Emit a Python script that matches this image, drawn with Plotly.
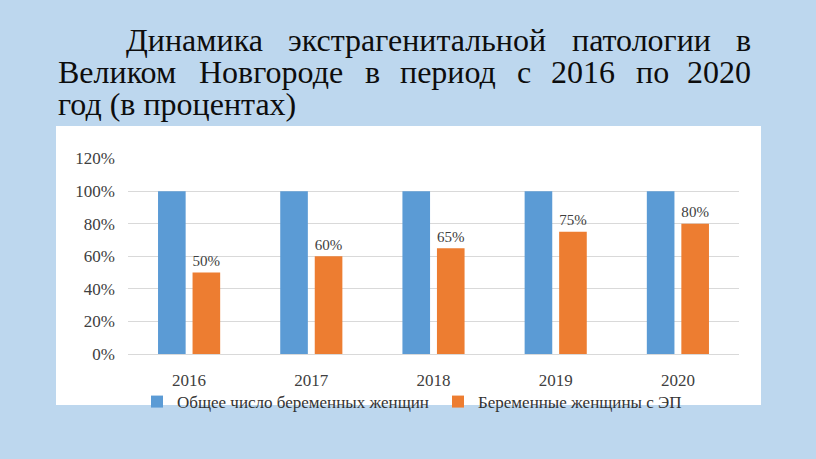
import plotly.graph_objects as go

W, H = 816, 459

years = ["2016", "2017", "2018", "2019", "2020"]
total_pct = [1.00, 1.00, 1.00, 1.00, 1.00]
ep_pct = [0.50, 0.60, 0.65, 0.75, 0.80]
series_names = ["Общее число беременных женщин", "Беременные женщины с ЭП"]
ytick_vals = [0, 0.2, 0.4, 0.6, 0.8, 1.0, 1.2]
ytick_text = ["0%", "20%", "40%", "60%", "80%", "100%", "120%"]

title_lines = [
    "Динамика экстрагенитальной патологии в",
    "Великом Новгороде в период с 2016 по 2020",
    "год (в процентах)",
]

BLUE = "#5B9BD5"
ORANGE = "#ED7D31"
BG = "#BDD7EE"
SERIF = "Liberation Serif"
TITLE_SIZE = 32

# approximate Times / Liberation Serif advance widths (em)
CW = {
    "Д": 0.65, "В": 0.667, "Н": 0.722,
    "а": 0.444, "б": 0.5, "в": 0.472, "г": 0.41, "д": 0.509, "е": 0.444, "и": 0.535,
    "й": 0.535, "к": 0.486, "л": 0.499, "м": 0.633, "н": 0.535, "о": 0.5, "п": 0.535,
    "р": 0.5, "с": 0.444, "т": 0.437, "х": 0.5, "ц": 0.535, "ь": 0.456, "э": 0.442,
    "(": 0.333, ")": 0.333, " ": 0.25,
}

def text_w(s, size):
    return sum(CW.get(c, 0.5) for c in s) * size

def px(x):
    return x / W

def py(y):
    return 1 - y / H

fig = go.Figure()
fig.add_trace(go.Bar(x=years, y=total_pct, name=series_names[0], marker_color=BLUE,
                     marker_line_width=0))
fig.add_trace(go.Bar(x=years, y=ep_pct, name=series_names[1], marker_color=ORANGE,
                     marker_line_width=0,
                     text=[f"{round(v*100)}%" for v in ep_pct], textposition="outside",
                     textfont=dict(family=SERIF, size=17, color="#404040"),
                     cliponaxis=False))

# justified title: line layout (left edge, right edge or None for last line)
line_left = [125, 57, 57]
line_right = [752, 752, None]
line_y = [32, 66, 99]

annotations = []
for li, line in enumerate(title_lines):
    if line_right[li] is None:
        words = [line]
        gap = 0
    else:
        words = line.split(" ")
        total = sum(text_w(w, TITLE_SIZE) for w in words)
        gap = (line_right[li] - line_left[li] - total) / (len(words) - 1)
    x = line_left[li]
    for wi, w in enumerate(words):
        last = line_right[li] is not None and wi == len(words) - 1
        annotations.append(dict(
            text=w, x=px(line_right[li] if last else x), y=py(line_y[li]),
            xref="paper", yref="paper",
            xanchor="right" if last else "left", yanchor="middle",
            showarrow=False, borderpad=0,
            font=dict(family=SERIF, size=TITLE_SIZE, color="#0d0d0d"),
        ))
        x += text_w(w, TITLE_SIZE) + gap

fig.update_layout(
    width=W, height=H,
    margin=dict(l=0, r=0, t=0, b=0),
    paper_bgcolor=BG,
    plot_bgcolor="white",
    barmode="group",
    bargap=0.435,
    bargroupgap=0.2,
    showlegend=True,
    font=dict(family=SERIF),
    legend=dict(orientation="h", x=px(137), y=py(410), xanchor="left", yanchor="middle",
                font=dict(family=SERIF, size=17, color="#333333"),
                bgcolor="rgba(0,0,0,0)", entrywidth=256, entrywidthmode="pixels",
                itemwidth=30, tracegroupgap=0),
    xaxis=dict(domain=[px(128), px(739)], showgrid=False, showline=False, zeroline=False,
               ticks="", tickfont=dict(family=SERIF, size=17, color="#404040"),
               ticklabelstandoff=14, fixedrange=True),
    yaxis=dict(domain=[py(360), py(156)], range=[0, 1.2], tickvals=ytick_vals,
               ticktext=ytick_text, showgrid=True, gridcolor="#D9D9D9", gridwidth=1,
               zeroline=True, zerolinecolor="#D9D9D9", zerolinewidth=1, showline=False,
               ticks="", tickfont=dict(family=SERIF, size=17, color="#404040"),
               ticklabelstandoff=12, fixedrange=True),
    shapes=[dict(type="rect", xref="paper", yref="paper", x0=px(56), x1=px(761),
                 y0=py(413), y1=py(122), fillcolor="white", line_width=0, layer="below")],
    annotations=annotations,
)

fig.write_html("out.html")
